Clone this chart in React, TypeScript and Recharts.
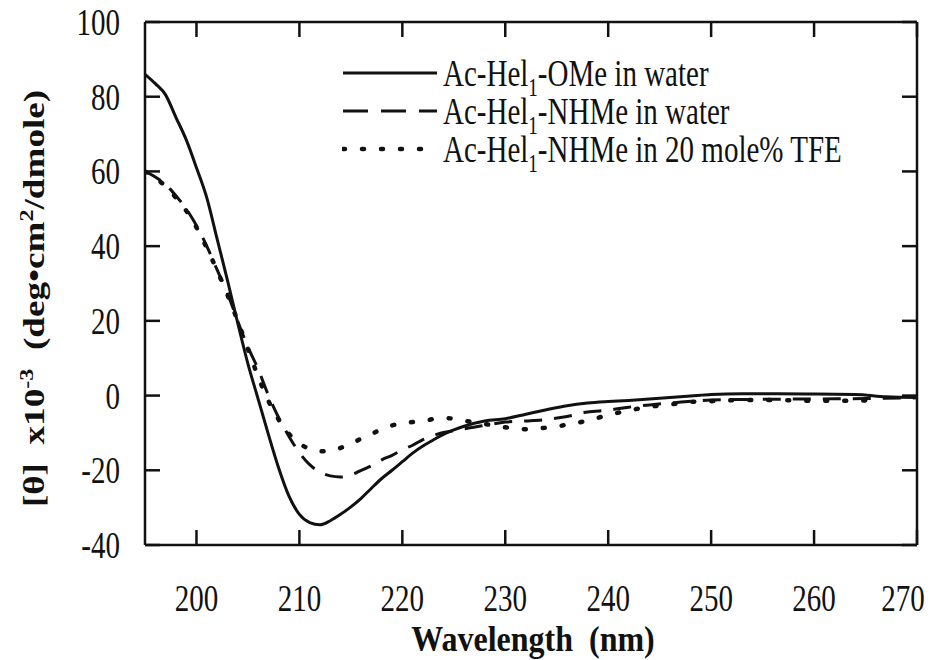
import { LineChart, Line, XAxis, YAxis, Legend } from 'recharts'

// CD spectra, [θ] x10^-3 (deg·cm²/dmole) vs wavelength (nm)
const omeWave = [195, 196, 197, 198, 199, 200, 201, 202, 203, 204, 205, 206, 207, 208, 209, 210, 211, 212, 213, 214, 215, 216, 217, 218, 219, 220, 221, 222, 223, 224, 225, 226, 228, 230, 232, 234, 236, 238, 240, 242, 244, 246, 248, 250, 253, 256, 260, 264, 267, 270]
const omeTheta = [86, 83.5, 80.5, 74.5, 68.5, 61, 53, 42, 31, 19.5, 8.5, -1, -10.5, -19.5, -27, -31.8, -34, -34.6, -33.5, -31.8, -29.8, -27.5, -24.8, -22.2, -20, -17.7, -15.4, -13.5, -11.9, -10.4, -9.2, -8.2, -6.8, -6.2, -5, -3.8, -2.7, -2, -1.6, -1.3, -0.9, -0.5, -0.1, 0.3, 0.5, 0.5, 0.4, 0.3, -0.3, -0.5]

const nhmeWave = [195, 196, 197, 198, 199, 200, 201, 202, 203, 204, 205, 206, 207, 208, 209, 210, 211, 212, 213, 214, 215, 216, 217, 218, 219, 220, 221, 222, 223, 224, 225, 226, 228, 230, 232, 234, 236, 238, 240, 242, 244, 246, 248, 250, 255, 260, 265, 270]
const nhmeTheta = [60, 58.5, 56.5, 53.5, 50, 45.5, 40, 33.7, 27.5, 20, 13, 7, 0, -6, -11, -15.3, -18.5, -20.5, -21.5, -21.8, -21.3, -20, -18.8, -17.2, -16, -14.5, -13.3, -11.8, -10.7, -9.9, -9.4, -8.9, -8, -7.1, -6.8, -6.4, -5.6, -4.4, -3.9, -3.1, -2.5, -2, -1.5, -1.2, -1, -0.9, -0.8, -0.6]

const tfeWave = [195, 196, 197, 198, 199, 200, 201, 202, 203, 204, 205, 206, 207, 208, 209, 210, 211, 212, 213, 214, 215, 216, 217, 218, 219, 220, 221, 222, 223, 224, 225, 226, 228, 230, 232, 234, 236, 238, 240, 242, 244, 246, 248, 250, 253, 256, 260, 263, 265]
const tfeTheta = [60, 58.3, 56, 53, 49.5, 45, 39.5, 33.5, 27, 20, 12.5, 5, -1.5, -6.5, -10.3, -12.8, -14.3, -14.9, -14.9, -14, -13, -11.5, -10.3, -9, -8, -7.4, -7.1, -6.8, -6.3, -6, -6.2, -6.7, -7.6, -8.5, -9, -8.6, -7.8, -6.7, -5.2, -4, -3, -2.4, -1.7, -1.5, -1.2, -1.2, -1.4, -1.4, -1.3]

const xTicks = [200, 210, 220, 230, 240, 250, 260, 270]
const yTicks = [-40, -20, 0, 20, 40, 60, 80, 100]

// legend labels: [before subscript, subscript, after]
const seriesLabels = [
  ['Ac-Hel', '1', '-OMe in water'],
  ['Ac-Hel', '1', '-NHMe in water'],
  ['Ac-Hel', '1', '-NHMe in 20 mole% TFE'],
]

const ome = omeWave.map((w, i) => ({ w, v: omeTheta[i] }))
const nhme = nhmeWave.map((w, i) => ({ w, v: nhmeTheta[i] }))
const tfe = tfeWave.map((w, i) => ({ w, v: tfeTheta[i] }))

const ink = '#111'
const serif = '"Liberation Serif", "Times New Roman", serif'
const stretch = 1.28 // the scan is taller than wide
const tickLen = 15
const styles = [
  { dash: undefined, width: 3, legendDash: undefined },
  { dash: '18 12', width: 3, legendDash: '25 13' },
  { dash: '2 17', width: 4.5, legendDash: '2 17' },
]
const frame = { stroke: ink, strokeWidth: 2.5 }

// ticks point into the plot, so each tick renderer draws its own mark
function XTick(props: any) {
  const { x, y, payload } = props
  const cx = Math.min(x, 903) // keep the last label inside the picture
  return (
    <g>
      <line x1={x} y1={y} x2={x} y2={y - tickLen} stroke={ink} strokeWidth={2.5} />
      <g transform={`translate(${cx},${y + 66}) scale(1,${stretch})`}>
        <text x={0} y={0} textAnchor="middle" fontFamily={serif} fontSize={29} fill={ink}>
          {payload.value}
        </text>
      </g>
    </g>
  )
}

function YTick(props: any) {
  const { x, y, payload } = props
  return (
    <g>
      <line x1={x} y1={y} x2={x + tickLen} y2={y} stroke={ink} strokeWidth={2.5} />
      <g transform={`translate(${x - 25},${y}) scale(1,${stretch})`}>
        <text x={0} y={0} dy="0.35em" textAnchor="end" fontFamily={serif} fontSize={29} fill={ink}>
          {payload.value}
        </text>
      </g>
    </g>
  )
}

function TopTick(props: any) {
  const { x, y } = props
  return <line x1={x} y1={y} x2={x} y2={y + tickLen} stroke={ink} strokeWidth={2.5} />
}

function RightTick(props: any) {
  const { x, y } = props
  return <line x1={x} y1={y} x2={x - tickLen} y2={y} stroke={ink} strokeWidth={2.5} />
}

function XTitle(props: any) {
  const vb = props.viewBox
  return (
    <g transform={`translate(${vb.x + vb.width / 2 + 2},${vb.y + 106}) scale(1,1.15)`}>
      <text x={0} y={0} textAnchor="middle" fontFamily={serif} fontWeight="bold" fontSize={32} fill={ink} style={{ whiteSpace: 'pre' }}>
        Wavelength  (nm)
      </text>
    </g>
  )
}

function YTitle(props: any) {
  const vb = props.viewBox
  const cx = vb.x - 41
  const cy = vb.y + vb.height / 2 + 15
  return (
    <g transform={`translate(${cx},${cy}) rotate(-90) scale(${stretch},1)`}>
      <text x={0} y={0} textAnchor="middle" fontFamily={serif} fontWeight="bold" fontSize={29} fill={ink} style={{ whiteSpace: 'pre' }}>
        [θ]  x10<tspan dy={-11} fontSize={19}>-3</tspan>
        <tspan dy={11}>  (deg•cm</tspan>
        <tspan dy={-11} fontSize={19}>2</tspan>
        <tspan dy={11}>/dmole)</tspan>
      </text>
    </g>
  )
}

function LegendBox() {
  return (
    <div style={{ fontFamily: serif, color: ink }}>
      {seriesLabels.map((lab, i) => (
        <div key={i} style={{ display: 'flex', alignItems: 'center', height: 38 }}>
          <svg width={96} height={10} style={{ display: 'block' }}>
            <line x1={1} y1={5} x2={95} y2={5} stroke={ink} strokeWidth={styles[i].width}
              strokeDasharray={styles[i].legendDash} strokeLinecap={i === 2 ? 'round' : 'butt'} />
          </svg>
          <div style={{ marginLeft: 5, fontSize: 29, whiteSpace: 'nowrap', transform: `scaleY(${stretch})`, lineHeight: 1 }}>
            {lab[0]}
            <span style={{ fontSize: 19, position: 'relative', top: 8 }}>{lab[1]}</span>
            {lab[2]}
          </div>
        </div>
      ))}
    </div>
  )
}

export default function App() {
  return (
    <div style={{ position: 'absolute', left: 0, top: 0, width: 935, height: 660, background: '#fff' }}>
      <LineChart width={935} height={660} margin={{ top: 21, right: 17, bottom: 55, left: 85 }}>
        <XAxis xAxisId="b" dataKey="w" type="number" domain={[195, 270]} ticks={xTicks} allowDataOverflow
          tickSize={0} tickMargin={0} height={60} tick={<XTick />} tickLine={false} axisLine={frame}
          label={(p: any) => <XTitle {...p} />} />
        <XAxis xAxisId="t" orientation="top" dataKey="w" type="number" domain={[195, 270]} ticks={xTicks} allowDataOverflow
          tickSize={0} tickMargin={0} height={1} tick={<TopTick />} tickLine={false} axisLine={frame} />
        <YAxis yAxisId="l" type="number" domain={[-40, 100]} ticks={yTicks} width={60} allowDataOverflow
          tickSize={0} tickMargin={0} tick={<YTick />} tickLine={false}
          axisLine={frame} label={(p: any) => <YTitle {...p} />} />
        <YAxis yAxisId="r" orientation="right" type="number" domain={[-40, 100]} ticks={yTicks} width={1} allowDataOverflow
          tickSize={0} tickMargin={0} tick={<RightTick />} tickLine={false} axisLine={frame} />
        <Legend layout="vertical" align="center" verticalAlign="middle" content={() => <LegendBox />}
          wrapperStyle={{ left: 342, top: 54, width: 580 }} />
        <Line xAxisId="b" yAxisId="l" data={ome} dataKey="v" name="ome" type="monotone" stroke={ink}
          strokeWidth={styles[0].width} dot={false} isAnimationActive={false} />
        <Line xAxisId="b" yAxisId="l" data={nhme} dataKey="v" name="nhme" type="monotone" stroke={ink}
          strokeWidth={styles[1].width} strokeDasharray={styles[1].dash} dot={false} isAnimationActive={false} />
        <Line xAxisId="b" yAxisId="l" data={tfe} dataKey="v" name="tfe" type="monotone" stroke={ink}
          strokeWidth={styles[2].width} strokeDasharray={styles[2].dash} strokeLinecap="round" dot={false} isAnimationActive={false} />
      </LineChart>
    </div>
  )
}
